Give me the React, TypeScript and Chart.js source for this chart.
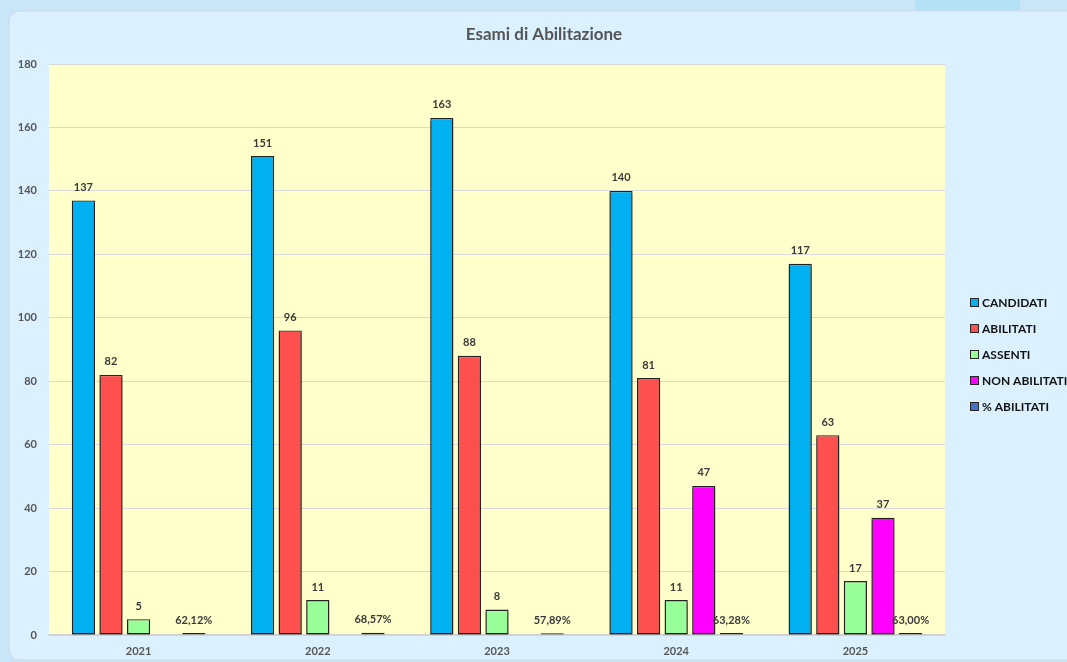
import React, { useEffect, useRef } from "react";
import { Chart, registerables } from "chart.js";

Chart.register(...registerables);

const titleText = "Esami di Abilitazione";
const categories = ["2021", "2022", "2023", "2024", "2025"];
const seriesNames = ["CANDIDATI", "ABILITATI", "ASSENTI", "NON ABILITATI", "% ABILITATI"];
const candidati = [137, 151, 163, 140, 117];
const abilitati = [82, 96, 88, 81, 63];
const assenti = [5, 11, 8, 11, 17];
const nonAbilitati: (number | null)[] = [null, null, null, 47, 37];
const percAbilitati = [0.6212, 0.6857, 0.5789, 0.6328, 0.63];
const seriesColors = ["#00B0F0", "#FF5050", "#99FF99", "#FF00FF", "#4472C4"];
const yMin = 0;
const yMax = 180;
const yStep = 20;

const FONT = "Lato, 'Open Sans', sans-serif";

function fmtLabel(dsIndex: number, v: number): string {
  if (dsIndex === 4) return (v * 100).toFixed(2).replace(".", ",") + "%";
  return String(v);
}

export default function App() {
  const ref = useRef<HTMLCanvasElement | null>(null);

  useEffect(() => {
    if (!ref.current) return;
    const seriesData = [candidati, abilitati, assenti, nonAbilitati, percAbilitati];

    const bgPlugin = {
      id: "bgPlugin",
      beforeDraw(chart: any) {
        const { ctx, chartArea } = chart;
        const W = chart.width;
        const H = chart.height;
        ctx.save();
        ctx.fillStyle = "#C8E6F8";
        ctx.fillRect(0, 0, W, H);
        ctx.fillStyle = "#B5E1F7";
        ctx.fillRect(915, 0, 105, 11);
        // card
        const x = 9, y = 11, w = W + 20, h = 649, r = 12;
        ctx.beginPath();
        ctx.moveTo(x + r, y);
        ctx.lineTo(x + w, y);
        ctx.lineTo(x + w, y + h);
        ctx.lineTo(x + r, y + h);
        ctx.quadraticCurveTo(x, y + h, x, y + h - r);
        ctx.lineTo(x, y + r);
        ctx.quadraticCurveTo(x, y, x + r, y);
        ctx.closePath();
        ctx.fillStyle = "#DBF1FF";
        ctx.fill();
        ctx.strokeStyle = "#CFD9E2";
        ctx.lineWidth = 1;
        ctx.stroke();
        // plot area
        ctx.fillStyle = "#FFFFCC";
        ctx.fillRect(chartArea.left, chartArea.top, chartArea.right - chartArea.left, chartArea.bottom - chartArea.top);
        ctx.restore();
      },
      beforeDatasetsDraw(chart: any) {
        const ctx = chart.ctx;
        ctx.save();
        ctx.shadowColor = "rgba(0,0,0,0.35)";
        ctx.shadowOffsetX = 0;
        ctx.shadowOffsetY = 3;
        ctx.shadowBlur = 0;
      },
      afterDatasetsDraw(chart: any) {
        chart.ctx.restore();
      },
      afterDraw(chart: any) {
        const { ctx } = chart;
        ctx.save();
        // title
        ctx.fillStyle = "#555555";
        ctx.font = `bold 17px ${FONT}`;
        ctx.textAlign = "center";
        ctx.textBaseline = "middle";
        ctx.fillText(titleText, 544, 35);
        // data labels
        ctx.font = `bold 11px ${FONT}`;
        ctx.fillStyle = "#3A3A3A";
        ctx.textBaseline = "middle";
        chart.data.datasets.forEach((ds: any, di: number) => {
          const meta = chart.getDatasetMeta(di);
          meta.data.forEach((el: any, i: number) => {
            const v = ds.data[i];
            if (v === null || v === undefined) return;
            const props = el.getProps(["x", "y"], true);
            ctx.fillText(fmtLabel(di, v), props.x, props.y - 13);
          });
        });
        // legend
        ctx.font = `bold 12px ${FONT}`;
        ctx.textAlign = "left";
        seriesNames.forEach((name, i) => {
          const ly = 302 + i * 26;
          ctx.fillStyle = seriesColors[i];
          ctx.fillRect(970, ly - 4, 8, 8);
          ctx.strokeStyle = "#262626";
          ctx.lineWidth = 1;
          ctx.strokeRect(970.5, ly - 3.5, 8, 8);
          ctx.fillStyle = "#111111";
          ctx.fillText(name, 982, ly + 1);
        });
        ctx.restore();
      },
    };

    const chart = new Chart(ref.current, {
      type: "bar",
      data: {
        labels: categories,
        datasets: seriesNames.map((name, i) => ({
          label: name,
          data: seriesData[i] as any,
          backgroundColor: seriesColors[i],
          borderColor: "#222222",
          borderWidth: 1.4,
          borderSkipped: false,
          categoryPercentage: 0.77,
          barPercentage: 0.84,
          clip: false as any,
        })),
      },
      options: {
        responsive: false,
        animation: false,
        events: [],
        layout: { padding: { left: 9, top: 64, right: 122, bottom: 0 } },
        plugins: {
          legend: { display: false },
          title: { display: false },
          tooltip: { enabled: false },
        },
        scales: {
          x: {
            grid: { display: false, drawTicks: false },
            border: { display: true, color: "#D0D0D0", width: 1.5 },
            ticks: {
              padding: 10,
              color: "#555555",
              font: { family: FONT, size: 11, weight: "bold" },
            },
            afterFit(scale: any) {
              scale.height = 27;
            },
          },
          y: {
            min: yMin,
            max: yMax,
            grid: { color: "#D9D9D9", lineWidth: 1, drawTicks: false },
            border: { display: false },
            ticks: {
              stepSize: yStep,
              padding: 12,
              color: "#555555",
              font: { family: FONT, size: 11, weight: "bold" },
            },
            afterFit(scale: any) {
              scale.width = 40;
            },
          },
        },
      },
      plugins: [bgPlugin],
    });
    return () => chart.destroy();
  }, []);

  return (
    <div style={{ position: "fixed", left: 0, top: 0, width: 1067, height: 662 }}>
      <canvas ref={ref} width={1067} height={662} style={{ display: "block" }} />
    </div>
  );
}
